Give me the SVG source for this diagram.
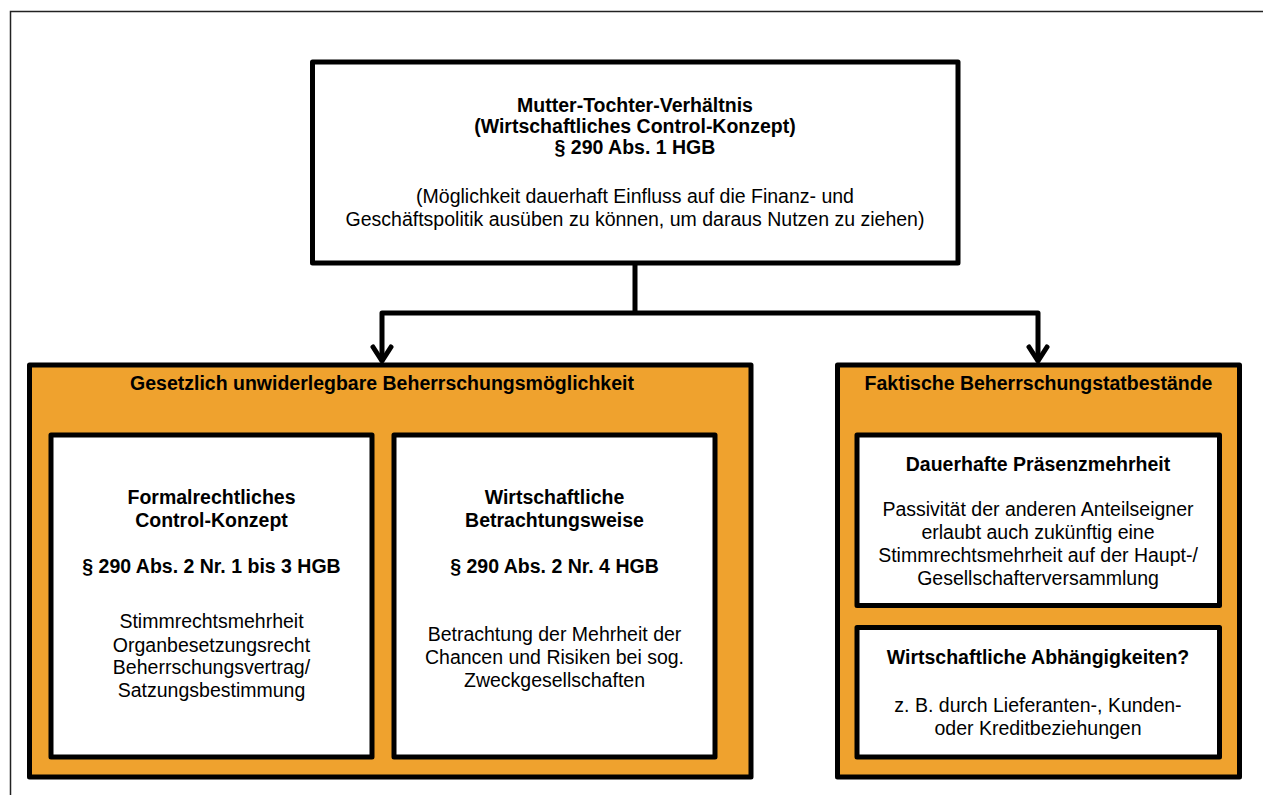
<svg xmlns="http://www.w3.org/2000/svg" width="1263" height="795" viewBox="0 0 1263 795">
<style>
.frame{fill:none;stroke:#222;stroke-width:1.5}
.box{fill:#fff;stroke:#000;stroke-width:5;stroke-linejoin:round}
.grp{fill:#EFA22E;stroke:#000;stroke-width:5;stroke-linejoin:round}
.conn{fill:none;stroke:#000;stroke-width:5;stroke-linejoin:round;stroke-linecap:round}
text{font-family:"Liberation Sans",Arial,sans-serif;font-size:19.5px;fill:#000;text-anchor:middle}
.b{font-weight:bold}
</style>
<rect class="frame" x="10.5" y="11.5" width="1300" height="900"/>
<g id="connectors">
<path class="conn" d="M635,263 V313 M382,360 V313 H1038 V360"/>
<path class="conn" d="M373,347 L382,361 L391,347"/>
<path class="conn" d="M1029,347 L1038,361 L1047,347"/>
</g>
<g id="top">
<rect class="box" x="312.5" y="62" width="645.5" height="201"/>
<text class="b" x="635" y="112">Mutter-Tochter-Verhältnis</text>
<text class="b" x="635" y="133">(Wirtschaftliches Control-Konzept)</text>
<text class="b" x="635" y="154">§ 290 Abs. 1 HGB</text>
<text x="635" y="203">(Möglichkeit dauerhaft Einfluss auf die Finanz- und</text>
<text x="635" y="226">Geschäftspolitik ausüben zu können, um daraus Nutzen zu ziehen)</text>
</g>
<g id="gesetzlich">
<rect class="grp" x="29.5" y="365" width="721.5" height="412"/>
<text class="b" x="382" y="390">Gesetzlich unwiderlegbare Beherrschungsmöglichkeit</text>
</g>
<g id="formal">
<rect class="box" x="51" y="435" width="321" height="322"/>
<text class="b" x="211.5" y="504">Formalrechtliches</text>
<text class="b" x="211.5" y="527">Control-Konzept</text>
<text class="b" x="211.5" y="573">§ 290 Abs. 2 Nr. 1 bis 3 HGB</text>
<text x="211.5" y="628">Stimmrechtsmehrheit</text>
<text x="211.5" y="652">Organbesetzungsrecht</text>
<text x="211.5" y="674">Beherrschungsvertrag/</text>
<text x="211.5" y="697">Satzungsbestimmung</text>
</g>
<g id="wirtschaftlich">
<rect class="box" x="394" y="435" width="321" height="322"/>
<text class="b" x="554.5" y="504">Wirtschaftliche</text>
<text class="b" x="554.5" y="527">Betrachtungsweise</text>
<text class="b" x="554.5" y="573">§ 290 Abs. 2 Nr. 4 HGB</text>
<text x="554.5" y="641">Betrachtung der Mehrheit der</text>
<text x="554.5" y="664">Chancen und Risiken bei sog.</text>
<text x="554.5" y="687">Zweckgesellschaften</text>
</g>
<g id="faktisch">
<rect class="grp" x="837.5" y="365" width="402" height="412"/>
<text class="b" x="1038.5" y="390">Faktische Beherrschungstatbestände</text>
</g>
<g id="praesenz">
<rect class="box" x="857" y="435" width="362.5" height="170.5"/>
<text class="b" x="1038" y="471">Dauerhafte Präsenzmehrheit</text>
<text x="1038" y="516">Passivität der anderen Anteilseigner</text>
<text x="1038" y="539">erlaubt auch zukünftig eine</text>
<text x="1038" y="562">Stimmrechtsmehrheit auf der Haupt-/</text>
<text x="1038" y="585">Gesellschafterversammlung</text>
</g>
<g id="abhaengig">
<rect class="box" x="857" y="627.5" width="362.5" height="129.5"/>
<text class="b" x="1038" y="664">Wirtschaftliche Abhängigkeiten?</text>
<text x="1038" y="712">z. B. durch Lieferanten-, Kunden-</text>
<text x="1038" y="735">oder Kreditbeziehungen</text>
</g>
</svg>
